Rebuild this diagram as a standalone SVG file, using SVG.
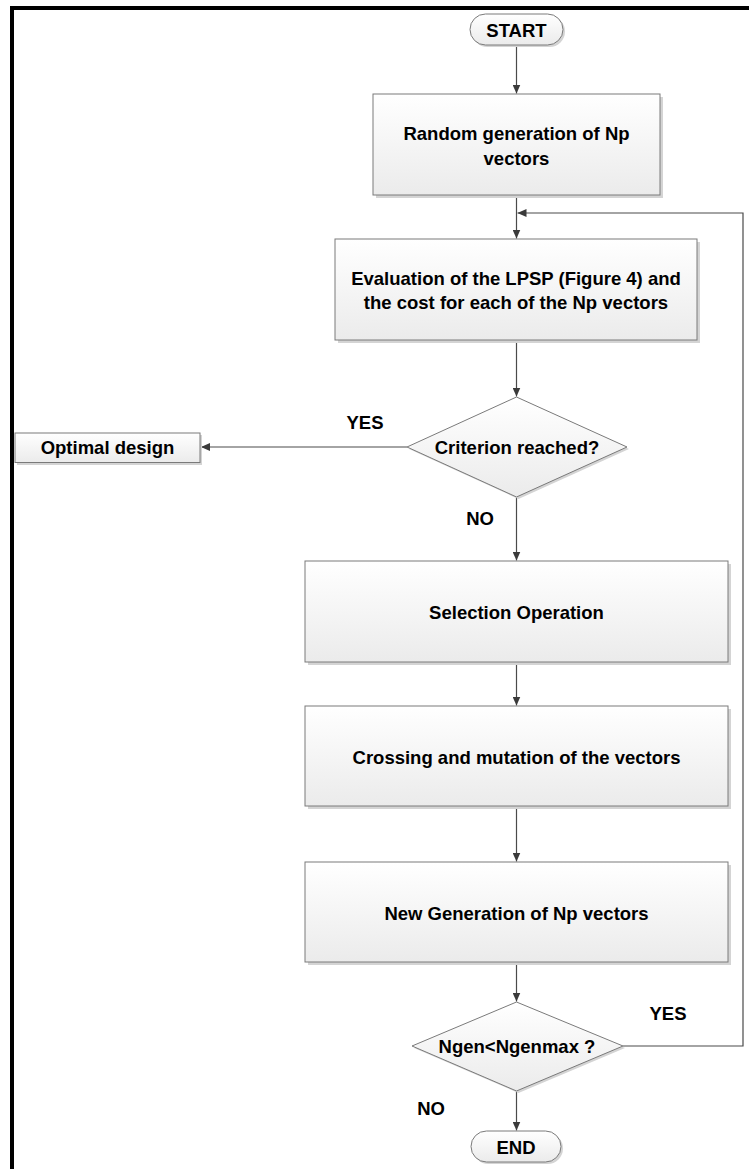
<svg xmlns="http://www.w3.org/2000/svg" width="749" height="1169" viewBox="0 0 749 1169">
<style>
.box{fill:url(#g);stroke:#7a7a7a;stroke-width:1}
.sh{fill:#d4d4d4}
.t{font-family:"Liberation Sans",Arial,sans-serif;font-size:18.5px;font-weight:bold;fill:#000;text-anchor:middle;dominant-baseline:central}
.c{fill:none;stroke:#4a4a4a;stroke-width:1.2}
</style>
<defs>
<linearGradient id="g" x1="0" y1="0" x2="0" y2="1">
<stop offset="0" stop-color="#ffffff"/>
<stop offset="1" stop-color="#ebebeb"/>
</linearGradient>
<marker id="ah" markerUnits="userSpaceOnUse" markerWidth="9" markerHeight="8" refX="9" refY="4" orient="auto">
<path d="M0,0 L9,4 L0,8 z" fill="#3a3a3a"/>
</marker>
</defs>
<rect width="749" height="1169" fill="#fff"/>
<rect x="10" y="6" width="739" height="4" fill="#000"/>
<rect x="10" y="6" width="4" height="1163" fill="#000"/>

<g id="connectors">
<path class="c" d="M516.5 45 V93.5" marker-end="url(#ah)"/>
<path class="c" d="M516.5 195 V238.5" marker-end="url(#ah)"/>
<path class="c" d="M623 1046 H743 V213 H517.5" marker-end="url(#ah)"/>
<path class="c" d="M516.5 340 V396.5" marker-end="url(#ah)"/>
<path class="c" d="M407 447 H201" marker-end="url(#ah)"/>
<path class="c" d="M516.5 497 V560.5" marker-end="url(#ah)"/>
<path class="c" d="M516.5 662 V705.5" marker-end="url(#ah)"/>
<path class="c" d="M516.5 806 V861.5" marker-end="url(#ah)"/>
<path class="c" d="M516.5 962 V1001.5" marker-end="url(#ah)"/>
<path class="c" d="M516.5 1091 V1130.5" marker-end="url(#ah)"/>
</g>

<g id="start">
<rect class="sh" x="472" y="16" width="93" height="31" rx="15.5"/>
<rect class="box" x="470" y="14" width="93" height="31" rx="15.5"/>
<text class="t" x="516.5" y="30">START</text>
</g>

<g id="random">
<rect class="sh" x="376" y="97" width="287" height="101"/>
<rect class="box" x="373" y="94" width="287" height="101"/>
<text class="t" x="516.5" y="133">Random generation of Np</text>
<text class="t" x="516.5" y="158">vectors</text>
</g>

<g id="evaluation">
<rect class="sh" x="338" y="242" width="362" height="101"/>
<rect class="box" x="335" y="239" width="362" height="101"/>
<text class="t" x="516" y="278">Evaluation of the LPSP (Figure 4) and</text>
<text class="t" x="516" y="302">the cost for each of the Np vectors</text>
</g>

<g id="criterion">
<polygon class="sh" points="518.5,399 629,449 518.5,499 409,449"/>
<polygon class="box" points="516.5,397 627,447 516.5,497 407,447"/>
<text class="t" x="517" y="447">Criterion reached?</text>
<text class="t" x="365" y="422">YES</text>
<text class="t" x="480" y="518">NO</text>
</g>

<g id="optimal">
<rect class="sh" x="17" y="435" width="185" height="30"/>
<rect class="box" x="15" y="433" width="185" height="29.5"/>
<text class="t" x="107.5" y="447.5">Optimal design</text>
</g>

<g id="selection">
<rect class="sh" x="308" y="564" width="423" height="101"/>
<rect class="box" x="305" y="561" width="423" height="101"/>
<text class="t" x="516.5" y="612">Selection Operation</text>
</g>

<g id="crossing">
<rect class="sh" x="308" y="709" width="423" height="100"/>
<rect class="box" x="305" y="706" width="423" height="100"/>
<text class="t" x="516.5" y="757">Crossing and mutation of the vectors</text>
</g>

<g id="newgen">
<rect class="sh" x="308" y="865" width="423" height="100"/>
<rect class="box" x="305" y="862" width="423" height="100"/>
<text class="t" x="516.5" y="913">New Generation of Np vectors</text>
</g>

<g id="ngen">
<polygon class="sh" points="518.5,1004 625,1048 518.5,1093 414,1048"/>
<polygon class="box" points="516.5,1002 623,1046 516.5,1091 412,1046"/>
<text class="t" x="517" y="1046">Ngen&lt;Ngenmax ?</text>
<text class="t" x="668" y="1013">YES</text>
<text class="t" x="431" y="1108">NO</text>
</g>

<g id="end">
<rect class="sh" x="473" y="1133" width="90" height="31" rx="15.5"/>
<rect class="box" x="471" y="1131" width="90" height="31" rx="15.5"/>
<text class="t" x="516" y="1147">END</text>
</g>
</svg>
